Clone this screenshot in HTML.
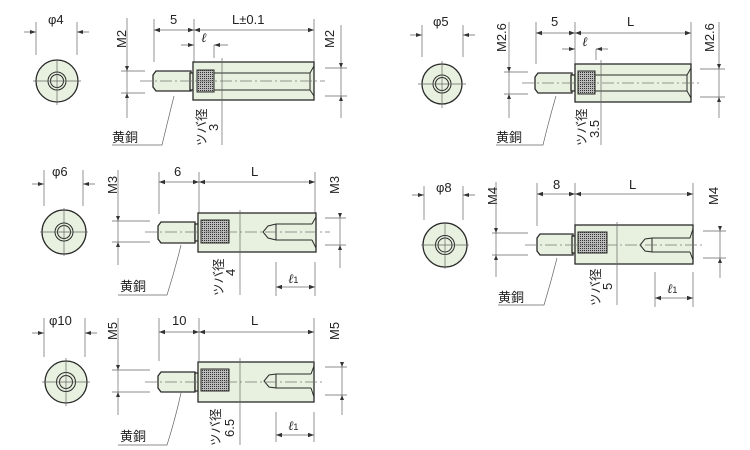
<!DOCTYPE html>
<html><head><meta charset="utf-8"><style>
html,body{margin:0;padding:0;background:#fff;}
svg{display:block;}
text{font-family:"Liberation Sans","Noto Sans CJK JP",sans-serif;fill:#222;}
.d{stroke:#666;stroke-width:0.7;fill:none;}
.o{stroke:#2a2a2a;stroke-width:1.3;fill:#e8f1df;}
.n{stroke:#2a2a2a;stroke-width:1;fill:none;}
.c{stroke:#777;stroke-width:0.7;fill:none;stroke-dasharray:12 3 2 3;}
.k{stroke:#2a2a2a;stroke-width:1;fill:url(#kn);}
.a{marker-start:url(#ar);marker-end:url(#ar);}
.l{font-family:"Liberation Serif",serif;font-style:italic;}
</style></head><body>
<svg width="750" height="450" viewBox="0 0 750 450" xmlns="http://www.w3.org/2000/svg">
<defs>
<marker id="ar" viewBox="0 0 8 6" refX="8" refY="3" markerWidth="6" markerHeight="4.5" orient="auto-start-reverse" markerUnits="userSpaceOnUse"><path d="M0,0 L8,3 L0,6z" fill="#333"/></marker>
<pattern id="kn" width="2" height="2" patternUnits="userSpaceOnUse"><rect width="2" height="2" fill="#bbb"/><rect width="1" height="1" fill="#333"/></pattern>
</defs>

<!-- ===== Part 1 ===== -->
<text x="48" y="24" font-size="13">φ4</text>
<path class="d" d="M36,22V55M77,22V55"/>
<path class="d" d="M24,32H36M77,32H89"/>
<path d="M36,32l-6,-2v4zM77,32l6,-2v4z" fill="#333"/>
<circle class="o" cx="57" cy="81" r="21"/>
<circle class="n" cx="57" cy="81" r="9"/><circle class="n" cx="57" cy="81" r="6.5"/>
<path class="d" d="M33,81H81M57,60V105"/>
<text transform="translate(126,48) rotate(-90)" font-size="13">M2</text>
<path class="d" d="M127,18V118M121,71H145M121,93H145"/>
<path class="d" d="M154,19V62M194,19V62M314,19V62"/>
<path class="d a" d="M154,30H194"/><path class="d a" d="M194,30H314"/>
<text x="170" y="24" font-size="13">5</text>
<text x="232" y="24" font-size="13">L±0.1</text>
<path class="d" d="M181,45H194M214,45H228M214,45V58"/>
<path d="M194,45l-6,-2v4zM214,45l6,-2v4z" fill="#333"/>
<text x="201" y="42" font-size="13" class="l">ℓ</text>
<path class="o" d="M153,75L156,71H191V91H156L153,87Z"/>
<rect class="o" x="190" y="73" width="4" height="17"/>
<rect class="o" x="193" y="62" width="121" height="38"/>
<rect class="k" x="197" y="70" width="17" height="22"/>
<path class="n" d="M214,73H310M214,90H310M310,73L314,66M310,90L314,96M310,73V90"/>
<path class="c" d="M140,81H325"/>
<path class="d" d="M222,58V145"/>
<text transform="translate(334,48) rotate(-90)" font-size="13">M2</text>
<path class="d" d="M341,25V118M325,68H347M325,96H347"/>
<path d="M341,68l-2,-5h4zM341,96l-2,5h4zM127,71l-2,-5h4zM127,93l-2,5h4z" fill="#333"/>
<path class="d" d="M174,96Q168,120 162,145H112"/>
<text x="112" y="142" font-size="13">黄銅</text>
<text transform="translate(206,146) rotate(-90)" font-size="12.5">ツバ径</text>
<text transform="translate(218,131) rotate(-90)" font-size="13">3</text>

<!-- ===== Part 2 ===== -->
<text x="52" y="176" font-size="13">φ6</text>
<path class="d" d="M44,170V206M83,170V206M32,184H44M83,184H95"/>
<path d="M44,184l-6,-2v4zM83,184l6,-2v4z" fill="#333"/>
<circle class="o" cx="64" cy="232" r="22"/>
<circle class="n" cx="64" cy="232" r="9"/><circle class="n" cx="64" cy="232" r="6.5"/>
<path class="d" d="M40,232H88M64,208V256"/>
<text transform="translate(117,194) rotate(-90)" font-size="13">M3</text>
<path class="d" d="M118,170V265M112,221H150M112,242H150"/>
<path class="d" d="M159,172V214M199,172V214M315,172V214"/>
<path class="d a" d="M159,182H199"/><path class="d a" d="M199,182H315"/>
<text x="174" y="176" font-size="13">6</text>
<text x="251" y="176" font-size="13">L</text>
<path class="o" d="M158,226L161,222H195V243H161L158,239Z"/>
<rect class="o" x="195" y="224" width="4" height="17"/>
<rect class="o" x="198" y="213" width="118" height="39"/>
<rect class="k" x="201" y="220" width="28" height="23"/>
<path class="n" d="M229,220V243M201,220H229M276,224H312M276,240H312M276,224V240M276,224L268,226L263,232L268,238L276,240M312,224L316,217M312,240L316,248"/>
<path class="c" d="M145,232H330"/>
<path class="d" d="M240,210V295"/>
<text transform="translate(339,194) rotate(-90)" font-size="13">M3</text>
<path class="d" d="M340,215V268M325,218H346M325,245H346"/>
<path d="M340,218l-2,-5h4zM340,245l-2,5h4zM118,221l-2,-5h4zM118,242l-2,5h4z" fill="#333"/>
<path class="d" d="M276,262V296M315,262V296"/><path class="d a" d="M276,287H315"/>
<text x="288" y="283" font-size="13" class="l">ℓ<tspan font-size="9" font-style="normal" font-family="Liberation Sans">1</tspan></text>
<path class="d" d="M181,245Q175,270 167,295H118"/>
<text x="120" y="291" font-size="13">黄銅</text>
<text transform="translate(223,296) rotate(-90)" font-size="12.5">ツバ径</text>
<text transform="translate(235,276) rotate(-90)" font-size="13">4</text>

<!-- ===== Part 3 ===== -->
<text x="433" y="26" font-size="13">φ5</text>
<path class="d" d="M422,25V57M463,25V57M410,35H422M463,35H475"/>
<path d="M422,35l-6,-2v4zM463,35l6,-2v4z" fill="#333"/>
<circle class="o" cx="442" cy="84" r="20"/>
<circle class="n" cx="442" cy="84" r="9"/><circle class="n" cx="442" cy="84" r="6.5"/>
<path class="d" d="M418,84H466M442,61V108"/>
<text transform="translate(506,52) rotate(-90)" font-size="13">M2.6</text>
<path class="d" d="M509,22V118M504,72H528M504,94H528"/>
<path class="d" d="M536,22V64M575,22V64M691,22V64"/>
<path class="d a" d="M536,33H575"/><path class="d a" d="M575,33H691"/>
<text x="551" y="26" font-size="13">5</text>
<text x="627" y="26" font-size="13">L</text>
<path class="d" d="M562,49H575M596,49H608M596,49V60"/>
<path d="M575,49l-6,-2v4zM596,49l6,-2v4z" fill="#333"/>
<text x="582" y="46" font-size="13" class="l">ℓ</text>
<path class="o" d="M535,77L538,73H572V93H538L535,89Z"/>
<rect class="o" x="571" y="75" width="4" height="16"/>
<rect class="o" x="575" y="64" width="116" height="38"/>
<rect class="k" x="578" y="71" width="17" height="23"/>
<path class="n" d="M595,75H687M595,91H687M687,75L691,68M687,91L691,98M687,75V91"/>
<path class="c" d="M522,83H702"/>
<path class="d" d="M601,60V145"/>
<text transform="translate(714,52) rotate(-90)" font-size="13">M2.6</text>
<path class="d" d="M719,22V118M700,69H725M700,97H725"/>
<path d="M719,69l-2,-5h4zM719,97l-2,5h4zM509,72l-2,-5h4zM509,94l-2,5h4z" fill="#333"/>
<path class="d" d="M556,96Q549,120 543,145H496"/>
<text x="496" y="142" font-size="13">黄銅</text>
<text transform="translate(586,146) rotate(-90)" font-size="12.5">ツバ径</text>
<text transform="translate(599,138) rotate(-90)" font-size="13">3.5</text>

<!-- ===== Part 4 ===== -->
<text x="436" y="192" font-size="13">φ8</text>
<path class="d" d="M424,186V220M463,186V220M412,195H424M463,195H475"/>
<path d="M424,195l-6,-2v4zM463,195l6,-2v4z" fill="#333"/>
<circle class="o" cx="445" cy="245" r="22"/>
<circle class="n" cx="445" cy="245" r="9.5"/><circle class="n" cx="445" cy="245" r="7"/>
<path class="d" d="M421,245H469M445,222V269"/>
<text transform="translate(497,205) rotate(-90)" font-size="13">M4</text>
<path class="d" d="M496,182V277M492,233H528M492,255H528"/>
<path class="d" d="M537,183V226M575,183V226M693,183V226"/>
<path class="d a" d="M537,194H575"/><path class="d a" d="M575,194H693"/>
<text x="553" y="189" font-size="13">8</text>
<text x="629" y="189" font-size="13">L</text>
<path class="o" d="M537,238L540,234H573V255H540L537,251Z"/>
<rect class="o" x="572" y="236" width="4" height="17"/>
<rect class="o" x="575" y="225" width="118" height="39"/>
<rect class="k" x="578" y="232" width="29" height="21"/>
<path class="n" d="M652,238H690M652,252H690M652,238V252M652,238L645,239L640,245L645,251L652,252M690,238L693,229M690,252L693,260"/>
<path class="c" d="M525,245H702"/>
<path class="d" d="M617,222V305"/>
<text transform="translate(718,205) rotate(-90)" font-size="13">M4</text>
<path class="d" d="M720,228V278M703,231H726M703,258H726"/>
<path d="M720,231l-2,-5h4zM720,258l-2,5h4zM496,233l-2,-5h4zM496,255l-2,5h4z" fill="#333"/>
<path class="d" d="M655,272V307M693,272V307"/><path class="d a" d="M655,298H693"/>
<text x="667" y="293" font-size="13" class="l">ℓ<tspan font-size="9" font-style="normal" font-family="Liberation Sans">1</tspan></text>
<path class="d" d="M557,258Q551,282 544,305H498"/>
<text x="498" y="302" font-size="13">黄銅</text>
<text transform="translate(600,306) rotate(-90)" font-size="12.5">ツバ径</text>
<text transform="translate(612,290) rotate(-90)" font-size="13">5</text>

<!-- ===== Part 5 ===== -->
<text x="49" y="325" font-size="13">φ10</text>
<path class="d" d="M44,318V357M85,318V357M32,333H44M85,333H97"/>
<path d="M44,333l-6,-2v4zM85,333l6,-2v4z" fill="#333"/>
<circle class="o" cx="66" cy="382" r="21"/>
<circle class="n" cx="66" cy="382" r="9.5"/><circle class="n" cx="66" cy="382" r="6.5"/>
<path class="d" d="M42,382H90M66,358V406"/>
<text transform="translate(117,340) rotate(-90)" font-size="13">M5</text>
<path class="d" d="M118,318V415M112,370H150M112,392H150"/>
<path class="d" d="M159,318V361M199,318V361M314,318V361"/>
<path class="d a" d="M159,332H199"/><path class="d a" d="M199,332H314"/>
<text x="172" y="325" font-size="13">10</text>
<text x="251" y="325" font-size="13">L</text>
<path class="o" d="M158,376L161,372H195V392H161L158,388Z"/>
<rect class="o" x="195" y="373" width="4" height="18"/>
<rect class="o" x="198" y="362" width="116" height="40"/>
<rect class="k" x="201" y="369" width="28" height="22"/>
<path class="n" d="M276,374H311M276,388H311M276,374V388M276,374L269,375L264,381L269,387L276,388M311,374L314,366M311,388L314,397"/>
<path class="c" d="M145,382H325"/>
<path class="d" d="M240,358V445"/>
<text transform="translate(339,340) rotate(-90)" font-size="13">M5</text>
<path class="d" d="M342,365V415M325,367H347M325,395H347"/>
<path d="M342,367l-2,-5h4zM342,395l-2,5h4zM118,370l-2,-5h4zM118,392l-2,5h4z" fill="#333"/>
<path class="d" d="M276,412V442M314,412V442"/><path class="d a" d="M276,435H314"/>
<text x="288" y="430" font-size="13" class="l">ℓ<tspan font-size="9" font-style="normal" font-family="Liberation Sans">1</tspan></text>
<path class="d" d="M181,393Q175,420 167,445H118"/>
<text x="120" y="441" font-size="13">黄銅</text>
<text transform="translate(220,446) rotate(-90)" font-size="12.5">ツバ径</text>
<text transform="translate(234,437) rotate(-90)" font-size="13">6.5</text>
</svg>
</body></html>
